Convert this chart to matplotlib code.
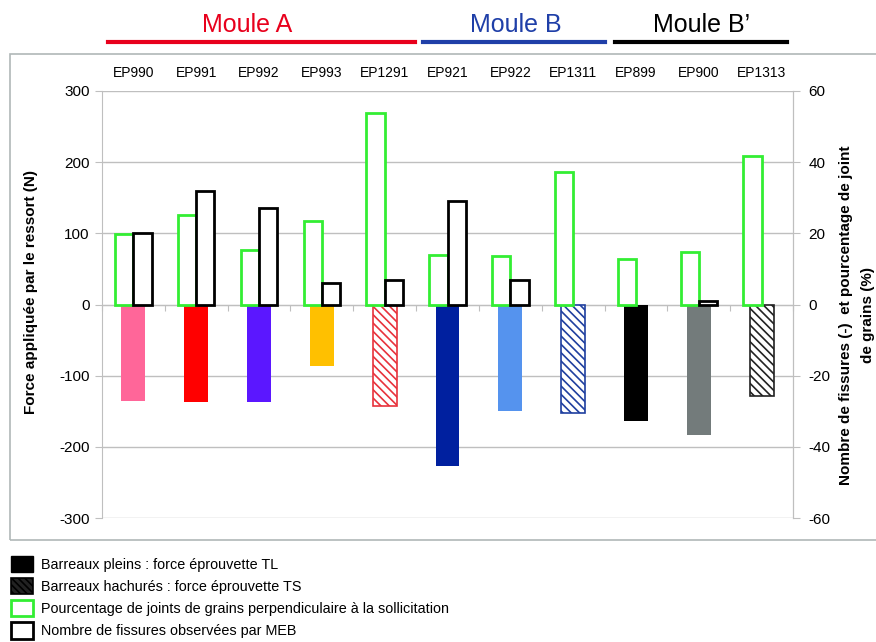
import numpy as np
import matplotlib
matplotlib.use("Agg")
import matplotlib.pyplot as plt
from matplotlib.patches import Patch, Rectangle
from matplotlib.lines import Line2D
import matplotlib.transforms as mtransforms

plt.rcParams['font.family'] = ['Liberation Sans', 'DejaVu Sans']
plt.rcParams['hatch.linewidth'] = 1.2
plt.rcParams['axes.unicode_minus'] = False

# data
cats = ['EP990', 'EP991', 'EP992', 'EP993', 'EP1291', 'EP921', 'EP922',
        'EP1311', 'EP899', 'EP900', 'EP1313']
force = [-135, -137, -137, -87, -143, -227, -149, -153, -164, -184, -129]
force_ts = [False, False, False, False, True, False, False, True, False, False, True]
bar_colours = ['#FF6699', '#FF0000', '#5B17FF', '#FFC000', '#E8323C', '#00209F',
               '#5593EE', '#1F3F9F', '#000000', '#737B7B', '#222222']
pct_joints = [19.7, 25.1, 15.2, 23.4, 53.8, 13.8, 13.7, 37.3, 12.7, 14.7, 41.7]
nb_fissures = [20, 32, 27, 6, 7, 29, 7, 0, 0, 1, 0]

groups = ['Moule A', 'Moule B', "Moule B\u2019"]
group_span = [(-0.4, 4.48), (4.61, 7.51), (7.67, 10.41)]
group_label_x = [1.81, 6.09, 9.05]
group_colours = ['#E8001C', '#1F3FA8', '#000000']

x = np.arange(len(cats))
grey = '#BFBFBF'

fig = plt.figure(figsize=(8.76, 6.42), dpi=100)
ax = fig.add_axes([0.1164, 0.1931, 0.7889, 0.6652])

# force bars (primary axis)
bars = ax.bar(x, force, width=0.38, color=bar_colours, zorder=3, linewidth=0)
for b, hatched, col in zip(bars, force_ts, bar_colours):
    if hatched:
        b.set_facecolor('white')
        b.set_edgecolor(col)
        b.set_hatch('\\\\\\\\')
        b.set_linewidth(1.2)

ax.set_ylim(-300, 300)
ax.set_xlim(-0.5, len(cats) - 0.5)
ax.set_yticks(np.arange(-300, 301, 100))
ax.yaxis.grid(True, color=grey, lw=1, zorder=0)
ax.set_axisbelow(True)
ax.spines['top'].set_visible(False)
ax.spines['left'].set_color(grey)
ax.spines['right'].set_color(grey)
ax.spines['bottom'].set_position(('data', 0))
ax.spines['bottom'].set_color(grey)
ax.set_xticks(np.arange(-0.5, len(cats), 1))
ax.set_xticklabels([])
ax.tick_params(axis='x', length=4, color=grey, direction='out')
ax.tick_params(axis='y', length=5, color=grey, labelsize=11, pad=4)
ax.set_ylabel('Force appliquée par le ressort (N)', fontsize=11, fontweight='bold')
ax.yaxis.set_label_coords(-0.092, 0.53)

# category labels on top
sec = ax.secondary_xaxis('top')
sec.set_xticks(x, cats)
sec.tick_params(length=0, pad=8, labelsize=10)
sec.spines['top'].set_visible(False)

# secondary axis: % joints and number of cracks
ax2 = ax.twinx()
ax2.set_ylim(-60, 60)
ax2.set_yticks(np.arange(-60, 61, 20))
ax2.bar(x - 0.145, pct_joints, width=0.29, facecolor='white',
        edgecolor='#33EE33', linewidth=2, zorder=3)
cb = ax2.bar(x + 0.145, nb_fissures, width=0.29, facecolor='white',
             edgecolor='black', linewidth=2, zorder=3)
for b, v in zip(cb, nb_fissures):
    if v == 0:
        b.set_linewidth(0)
for s in ['top', 'bottom', 'left']:
    ax2.spines[s].set_visible(False)
ax2.spines['right'].set_color(grey)
ax2.tick_params(axis='y', length=5, color=grey, labelsize=11, pad=6)
ax2.set_ylabel('Nombre de fissures (-)  et pourcentage de joint\nde grains (%)',
               fontsize=11, fontweight='bold', linespacing=1.7)
ax2.yaxis.set_label_coords(1.067, 0.475)

# mould headers
tr = mtransforms.blended_transform_factory(ax.transData, fig.transFigure)
for name, (x0, x1), lx, col in zip(groups, group_span, group_label_x, group_colours):
    ax.add_line(Line2D([x0, x1], [0.9346, 0.9346], transform=tr, color=col,
                       lw=3, clip_on=False))
    ax.text(lx, 0.961, name, transform=tr, color=col, fontsize=18,
            ha='center', va='center', clip_on=False)

# outer frame
fig.patches.append(Rectangle((0.0114, 0.159), 1.2, 0.757, transform=fig.transFigure,
                             fill=False, edgecolor='#B0B8B8', lw=1.2))

# legend
handles = [
    Patch(facecolor='black', edgecolor='black'),
    Patch(facecolor='#222222', edgecolor='black', hatch='\\\\\\\\\\', lw=1.2),
    Patch(facecolor='white', edgecolor='#33EE33', lw=2),
    Patch(facecolor='white', edgecolor='black', lw=2),
]
labels = [
    'Barreaux pleins : force éprouvette TL',
    'Barreaux hachurés : force éprouvette TS',
    'Pourcentage de joints de grains perpendiculaire à la sollicitation',
    'Nombre de fissures observées par MEB',
]
fig.legend(handles, labels, loc='upper left', bbox_to_anchor=(0.003, 0.148),
           frameon=False, fontsize=10.4, handlelength=1.5, handleheight=1.35,
           handletextpad=0.55, labelspacing=0.42, borderaxespad=0.2)

fig.savefig('out.png', dpi=100)
